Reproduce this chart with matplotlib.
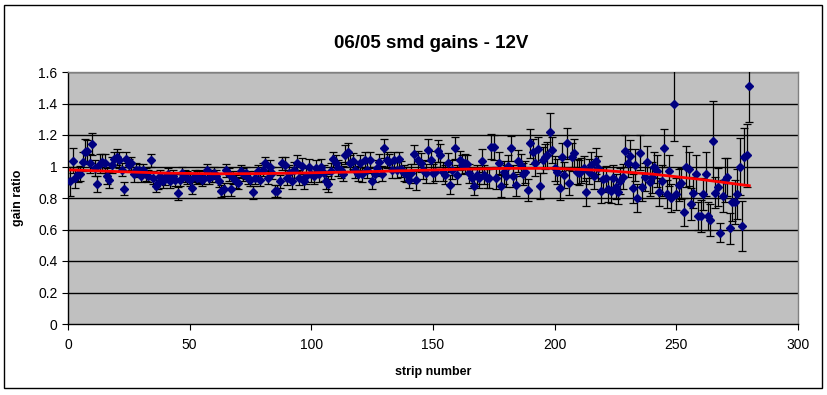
import matplotlib
matplotlib.use("Agg")
from matplotlib import pyplot as plt
from matplotlib.patches import Rectangle
import numpy as np

plt.rcParams['font.family'] = ['Liberation Sans', 'DejaVu Sans']

# gain ratio per strip (strips 1..280)
gain = [
    0.905, 1.038, 0.926, 0.950, 0.955, 1.030, 1.095, 1.100, 1.020, 1.140,
    0.990, 0.890, 1.017, 1.030, 1.020, 0.940, 0.915, 1.010, 1.045, 1.060,
    1.040, 0.980, 0.860, 1.045, 1.010, 1.020, 0.950, 0.980, 0.975, 0.940,
    0.975, 0.950, 0.940, 1.040, 0.930, 0.875, 0.895, 0.940, 0.905, 0.925,
    0.950, 0.905, 0.940, 0.915, 0.830, 0.915, 0.960, 0.940, 0.930, 0.915,
    0.865, 0.940, 0.930, 0.935, 0.915, 0.930, 0.975, 0.930, 0.940, 0.960,
    0.940, 0.910, 0.845, 0.855, 0.975, 0.950, 0.855, 0.930, 0.905, 0.895,
    0.970, 0.950, 0.960, 0.930, 0.915, 0.835, 0.930, 0.970, 0.915, 0.980,
    1.020, 0.930, 1.000, 0.960, 0.845, 0.845, 0.905, 1.020, 1.010, 0.930,
    0.960, 0.910, 0.980, 1.020, 0.930, 1.005, 0.905, 0.940, 1.000, 0.950,
    0.940, 0.990, 0.950, 1.000, 0.960, 0.905, 0.890, 0.970, 1.045, 1.020,
    0.990, 0.980, 0.955, 1.075, 1.090, 1.020, 1.035, 0.980, 0.955, 1.025,
    0.950, 1.040, 0.980, 1.040, 0.910, 0.950, 0.990, 1.030, 0.955, 1.115,
    1.040, 1.030, 0.980, 1.040, 0.980, 1.045, 0.985, 0.960, 0.950, 0.915,
    0.958, 1.078, 0.912, 1.040, 1.025, 0.980, 0.958, 1.105, 1.040, 0.958,
    0.968, 1.100, 1.070, 0.968, 0.947, 1.025, 0.884, 0.980, 1.116, 0.947,
    1.040, 1.010, 1.020, 1.016, 0.958, 0.926, 0.878, 0.947, 0.926, 1.038,
    0.947, 0.926, 0.926, 1.126, 1.122, 0.926, 1.020, 0.874, 0.962, 0.937,
    1.004, 1.116, 0.937, 0.884, 1.032, 1.010, 0.952, 0.967, 0.851, 1.147,
    1.094, 1.020, 1.109, 0.876, 1.041, 1.062, 1.073, 1.217, 1.105, 0.988,
    0.967, 0.866, 1.062, 0.946, 1.147, 0.897, 1.062, 1.084, 0.967, 0.961,
    0.974, 0.988, 0.840, 0.967, 1.010, 0.940, 1.035, 0.988, 0.847, 0.919,
    0.925, 0.855, 0.847, 0.929, 0.872, 0.840, 0.908, 0.935, 1.100, 1.024,
    1.067, 0.861, 1.010, 0.798, 1.088, 0.868, 0.935, 1.030, 0.904, 0.931,
    0.995, 0.971, 0.840, 0.910, 1.115, 0.825, 0.974, 0.798, 1.395, 0.825,
    0.883, 0.893, 0.713, 0.999, 0.984, 0.762, 0.834, 0.952, 0.686, 0.686,
    0.825, 0.952, 0.686, 0.660, 1.164, 0.834, 0.872, 0.580, 0.813, 0.914,
    0.935, 0.607, 0.777, 0.777, 0.825, 0.999, 0.624, 1.063, 1.070, 1.511,
]

# error bar half-heights per strip
gain_err = [
    0.09, 0.08, 0.06, 0.05, 0.05, 0.06, 0.08, 0.07, 0.06, 0.07,
    0.05, 0.05, 0.06, 0.05, 0.06, 0.05, 0.05, 0.05, 0.05, 0.05,
    0.05, 0.04, 0.04, 0.05, 0.04, 0.04, 0.05, 0.04, 0.04, 0.04,
    0.04, 0.04, 0.04, 0.04, 0.04, 0.04, 0.04, 0.04, 0.04, 0.04,
    0.04, 0.04, 0.04, 0.04, 0.04, 0.04, 0.04, 0.04, 0.04, 0.04,
    0.04, 0.04, 0.04, 0.04, 0.04, 0.04, 0.04, 0.04, 0.04, 0.04,
    0.04, 0.04, 0.04, 0.04, 0.04, 0.04, 0.04, 0.04, 0.04, 0.04,
    0.04, 0.04, 0.04, 0.04, 0.04, 0.04, 0.04, 0.04, 0.04, 0.04,
    0.04, 0.04, 0.04, 0.04, 0.04, 0.04, 0.04, 0.04, 0.05, 0.05,
    0.05, 0.05, 0.05, 0.05, 0.05, 0.05, 0.05, 0.05, 0.05, 0.05,
    0.05, 0.05, 0.05, 0.05, 0.05, 0.05, 0.05, 0.05, 0.05, 0.05,
    0.05, 0.05, 0.05, 0.06, 0.06, 0.05, 0.05, 0.05, 0.05, 0.05,
    0.05, 0.05, 0.05, 0.05, 0.05, 0.05, 0.05, 0.05, 0.05, 0.06,
    0.05, 0.05, 0.05, 0.05, 0.05, 0.05, 0.05, 0.05, 0.05, 0.05,
    0.06, 0.06, 0.06, 0.06, 0.06, 0.06, 0.06, 0.07, 0.06, 0.06,
    0.06, 0.07, 0.07, 0.06, 0.06, 0.06, 0.06, 0.06, 0.07, 0.06,
    0.06, 0.06, 0.06, 0.06, 0.06, 0.06, 0.06, 0.06, 0.06, 0.07,
    0.06, 0.06, 0.06, 0.08, 0.08, 0.07, 0.07, 0.07, 0.07, 0.07,
    0.07, 0.08, 0.07, 0.07, 0.07, 0.07, 0.07, 0.07, 0.07, 0.09,
    0.08, 0.08, 0.08, 0.08, 0.08, 0.08, 0.08, 0.12, 0.08, 0.08,
    0.08, 0.08, 0.09, 0.08, 0.10, 0.08, 0.09, 0.09, 0.08, 0.08,
    0.08, 0.08, 0.09, 0.08, 0.08, 0.08, 0.08, 0.08, 0.08, 0.08,
    0.08, 0.08, 0.08, 0.08, 0.08, 0.08, 0.08, 0.08, 0.10, 0.09,
    0.10, 0.09, 0.10, 0.09, 0.11, 0.09, 0.09, 0.10, 0.09, 0.10,
    0.10, 0.10, 0.09, 0.10, 0.12, 0.09, 0.10, 0.09, 0.23, 0.10,
    0.10, 0.10, 0.09, 0.13, 0.11, 0.10, 0.10, 0.12, 0.09, 0.10,
    0.10, 0.14, 0.09, 0.10, 0.25, 0.10, 0.12, 0.06, 0.10, 0.14,
    0.12, 0.10, 0.12, 0.14, 0.16, 0.18, 0.16, 0.18, 0.20, 0.23,
]

# trendline (red) read at a few strips
trend_x = [1, 20, 40, 60, 80, 100, 120, 140, 160, 180, 200, 220, 240, 260, 280]
trend_y = [0.978, 0.968, 0.958, 0.954, 0.955, 0.960, 0.966, 0.974, 0.982,
           0.988, 0.988, 0.975, 0.952, 0.918, 0.878]

title = "06/05 smd gains - 12V"
xlabel = "strip number"
ylabel = "gain ratio"

strips = np.arange(1, len(gain) + 1)

fig = plt.figure(figsize=(8.27, 3.95), dpi=100)
ax = fig.add_axes([68/827, 1-324/395, 730/827, 252/395])
ax.set_facecolor('#C0C0C0')

for y in np.arange(0.2, 1.61, 0.2):
    ax.axhline(y, color='black', lw=1, zorder=1)

ax.errorbar(strips, gain, yerr=gain_err, fmt='D', color='#000080',
            markersize=3.6, ecolor='black', elinewidth=0.9, capsize=3,
            capthick=0.9, zorder=3)
ax.plot(trend_x, trend_y, color='red', lw=2, zorder=4)

ax.set_xlim(0, 300)
ax.set_ylim(0, 1.6)
ax.set_xticks(range(0, 301, 50))
ax.set_yticks(np.arange(0, 1.61, 0.2))
ax.set_yticklabels(['0', '0.2', '0.4', '0.6', '0.8', '1', '1.2', '1.4', '1.6'])
ax.tick_params(direction='out', length=4, labelsize=10, colors='black')
ax.tick_params(axis='x', pad=6)

for s in ['top', 'right']:
    ax.spines[s].set_color('#808080')
    ax.spines[s].set_linewidth(1)
for s in ['left', 'bottom']:
    ax.spines[s].set_color('black')
    ax.spines[s].set_linewidth(1)

fig.text(431/827, 1-43/395, title, ha='center', va='center',
         fontsize=13.5, fontweight='bold')
ax.set_xlabel(xlabel, fontsize=9, fontweight='bold', labelpad=10)
ax.set_ylabel(ylabel, fontsize=9, fontweight='bold', labelpad=10)

fig.patches.append(Rectangle((4/827, 7/395), 818/827, 383/395,
                             transform=fig.transFigure, fill=False,
                             edgecolor='black', lw=1))

fig.savefig("out.png", dpi=100)
